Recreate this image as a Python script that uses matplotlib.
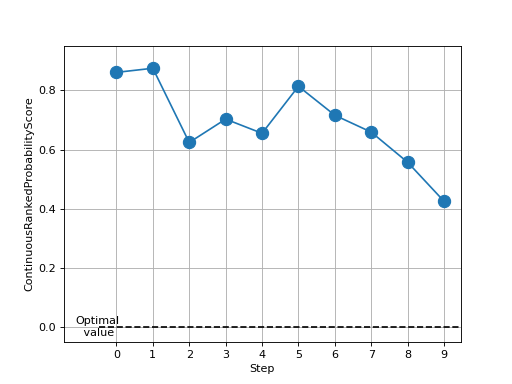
import matplotlib
matplotlib.use("Agg")
import matplotlib.pyplot as plt

steps = [0, 1, 2, 3, 4, 5, 6, 7, 8, 9]
crps = [0.861, 0.875, 0.624, 0.703, 0.655, 0.814, 0.716, 0.659, 0.557, 0.425]
optimal = 0.0

fig = plt.figure(figsize=(6.4, 4.8), dpi=80)
ax = fig.add_subplot(111)

ax.plot(steps, crps, "-o", color="#1f77b4", markersize=11)
ax.plot([-0.47, 9.46], [optimal, optimal], "k--")
ax.text(-0.52, optimal, "Optimal\n value", ha="center", va="center")

ax.set_xlim(-1.44, 9.46)
ax.set_ylim(-0.05, 0.95)
ax.set_xticks(steps)
ax.set_xlabel("Step")
ax.set_ylabel("ContinuousRankedProbabilityScore")
ax.grid(True)

fig.savefig("out.png", dpi=80)
